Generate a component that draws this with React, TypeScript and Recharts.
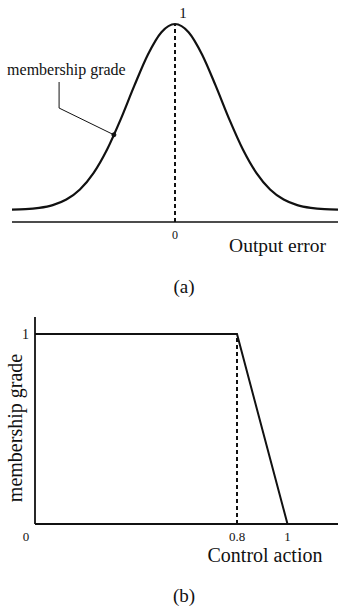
import React from "react";
import { LineChart, Line, XAxis, YAxis, ReferenceLine, ReferenceDot, Label } from "recharts";

const FONT = '"Liberation Serif", "Times New Roman", Times, serif';
const INK = "#111";

// ---- Panel (a): Gaussian membership of output error ----
const errorX = [-3.6, -3.3, -3.0, -2.7, -2.4, -2.1, -1.8, -1.5, -1.2, -0.9, -0.6, -0.3, 0, 0.3, 0.6, 0.9, 1.2, 1.5, 1.8, 2.1, 2.4, 2.7, 3.0, 3.3, 3.6];
const gradeA = [0.002, 0.004, 0.011, 0.026, 0.056, 0.11, 0.198, 0.325, 0.487, 0.667, 0.835, 0.956, 1, 0.956, 0.835, 0.667, 0.487, 0.325, 0.198, 0.11, 0.056, 0.026, 0.011, 0.004, 0.002];
const ticksA = [0];
const domainA = [-3.6, 3.6];
const gradeDomainA = [-0.065, 1];
const peakX = 0;
const peakGrade = 1;
const leaderX = [-2.56, -2.56, -1.35];
const leaderY = [0.688, 0.548, 0.404];

// ---- Panel (b): trapezoid membership of control action ----
const actionX = [0, 0.8, 1];
const gradeB = [1, 1, 0];
const ticksBX = [0, 0.8, 1];
const ticksBY = [1];
const domainBX = [0, 1.2];
const domainBY = [0, 1.09];
const kneeX = 0.8;

const dataA = errorX.map((x, i) => ({ x, y: gradeA[i] }));
const dataB = actionX.map((x, i) => ({ x, y: gradeB[i] }));

const textStyle = { fontFamily: FONT, fill: INK };

export default function App() {
  return (
    <div style={{ position: "absolute", left: 0, top: 0, width: 338, height: 608, background: "#fff", fontFamily: FONT }}>
      <div style={{ position: "absolute", left: 0, top: 0 }}>
        <LineChart width={338} height={300} data={dataA} margin={{ top: 24, right: 0, left: 12, bottom: 0 }}>
          <XAxis
            dataKey="x"
            type="number"
            domain={domainA}
            ticks={ticksA}
            interval={0}
            tickLine={false}
            axisLine={{ stroke: INK, strokeWidth: 1.6 }}
            height={78}
            tick={{ fontSize: 12, fill: INK, fontFamily: FONT }}
          >
            <Label
              content={(p: any) => (
                <text x={p.viewBox.x + p.viewBox.width - 12} y={p.viewBox.y + 30} textAnchor="end" fontSize={19.5} style={textStyle}>
                  Output error
                </text>
              )}
            />
            <Label
              content={(p: any) => (
                <text x={p.viewBox.x + 172} y={p.viewBox.y + 71} textAnchor="middle" fontSize={19} style={textStyle}>
                  (a)
                </text>
              )}
            />
          </XAxis>
          <YAxis hide type="number" domain={gradeDomainA} />
          <ReferenceLine
            segment={[{ x: peakX, y: gradeDomainA[0] }, { x: peakX, y: peakGrade }]}
            stroke={INK}
            strokeWidth={2}
            strokeDasharray="4 3"
            label={(p: any) => (
              <text x={p.viewBox.x + 8} y={p.viewBox.y - 6} textAnchor="middle" fontSize={15} style={textStyle}>
                1
              </text>
            )}
          />
          <ReferenceLine
            segment={[{ x: leaderX[0], y: leaderY[0] }, { x: leaderX[1], y: leaderY[1] }]}
            stroke={INK}
            strokeWidth={1}
            label={(p: any) => (
              <text x={p.viewBox.x - 52} y={p.viewBox.y - 7} textAnchor="start" fontSize={16} style={textStyle}>
                membership grade
              </text>
            )}
          />
          <ReferenceLine
            segment={[{ x: leaderX[1], y: leaderY[1] }, { x: leaderX[2], y: leaderY[2] }]}
            stroke={INK}
            strokeWidth={1}
          />
          <ReferenceDot x={leaderX[2]} y={leaderY[2]} r={2} fill={INK} stroke={INK} />
          <Line dataKey="y" type="monotone" stroke={INK} strokeWidth={2.2} dot={false} isAnimationActive={false} />
        </LineChart>
      </div>
      <div style={{ position: "absolute", left: 0, top: 300 }}>
        <LineChart width={338} height={308} data={dataB} margin={{ top: 17, right: 0, left: 0, bottom: 0 }}>
          <XAxis
            dataKey="x"
            type="number"
            domain={domainBX}
            ticks={ticksBX}
            interval={0}
            tickLine={false}
            axisLine={{ stroke: INK, strokeWidth: 1.8 }}
            height={84}
            tick={(p: any) => (
              <text
                x={p.x + (p.payload.value === 0 ? -9 : 0)}
                y={p.y}
                dy="0.71em"
                textAnchor="middle"
                fontSize={13}
                style={textStyle}
              >
                {p.payload.value}
              </text>
            )}
          >
            <Label
              content={(p: any) => (
                <text x={p.viewBox.x + 230} y={p.viewBox.y + 38} textAnchor="middle" fontSize={20} style={textStyle}>
                  Control action
                </text>
              )}
            />
            <Label
              content={(p: any) => (
                <text x={p.viewBox.x + 149} y={p.viewBox.y + 78} textAnchor="middle" fontSize={19} style={textStyle}>
                  (b)
                </text>
              )}
            />
          </XAxis>
          <YAxis
            type="number"
            domain={domainBY}
            ticks={ticksBY}
            interval={0}
            width={35}
            tickLine={false}
            tickSize={6}
            tickMargin={0}
            axisLine={{ stroke: INK, strokeWidth: 1.8 }}
            tick={{ fontSize: 14, fill: INK, fontFamily: FONT }}
          >
            <Label
              content={(p: any) => {
                const cx = p.viewBox.x + 22;
                const cy = p.viewBox.y + 111;
                return (
                  <text x={cx} y={cy} transform={`rotate(-90 ${cx} ${cy})`} textAnchor="middle" fontSize={20} style={textStyle}>
                    membership grade
                  </text>
                );
              }}
            />
          </YAxis>
          <ReferenceLine
            segment={[{ x: kneeX, y: 0 }, { x: kneeX, y: 1 }]}
            stroke={INK}
            strokeWidth={2}
            strokeDasharray="4 3"
          />
          <Line dataKey="y" type="linear" stroke={INK} strokeWidth={2} dot={false} isAnimationActive={false} />
        </LineChart>
      </div>
    </div>
  );
}
